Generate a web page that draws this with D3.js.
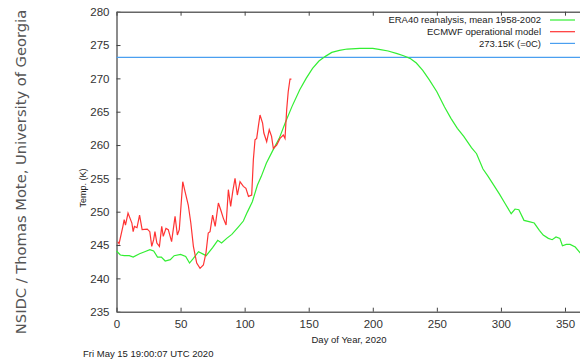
<!DOCTYPE html>
<html>
<head>
<meta charset="utf-8">
<script src="https://cdn.jsdelivr.net/npm/d3@7"></script>
<style>
  body { margin: 0; background: #fff; }
  svg { display: block; font-family: "Liberation Sans", Arial, sans-serif; }
</style>
</head>
<body>
<div id="chart"></div>
<script>
const width = 580, height = 360;

// ERA40 climatology (mean 1958-2002)
var climDays = [0, 3, 6, 10, 13, 18, 22, 26, 29, 32, 35, 38, 42, 45, 50, 54, 57, 60, 64, 68, 70, 75, 79, 82, 86, 90, 95, 99, 102, 106, 110, 113, 117, 122, 127, 132, 137, 143, 148, 153, 158, 163, 168, 174, 180, 190, 200, 206, 212, 219, 224, 229, 234, 239, 244, 250, 256, 261, 266, 271, 277, 281, 286, 290, 295, 299, 303, 308, 311, 314, 318, 322, 326, 330, 333, 337, 340, 343, 346, 348, 351, 354, 358, 362];
var climTemp = [244.1, 243.5, 243.4, 243.4, 243.2, 243.7, 244.0, 244.3, 244.1, 243.2, 243.2, 242.6, 242.8, 243.4, 243.6, 243.3, 242.3, 243.0, 244.0, 243.6, 243.4, 244.6, 245.7, 245.3, 246.0, 246.6, 247.7, 248.6, 249.9, 251.5, 254.0, 255.3, 257.3, 259.2, 261.0, 263.5, 265.8, 268.3, 270.0, 271.5, 272.6, 273.3, 273.9, 274.2, 274.4, 274.5, 274.5, 274.3, 274.1, 273.7, 273.4, 273.0, 272.3, 271.2, 269.8, 268.0, 265.7, 264.0, 262.5, 261.3, 259.6, 258.7, 256.4, 255.3, 253.8, 252.6, 251.3, 249.7, 250.4, 250.3, 248.7, 248.5, 248.3, 247.2, 246.5, 246.0, 245.8, 246.2, 246.0, 244.9, 245.1, 245.1, 244.7, 243.8];

// ECMWF operational model, 2020
var modelDays = [1, 2, 5, 6, 7, 9, 12, 13, 14, 16, 18, 20, 24, 26, 27.5, 29, 30, 31.5, 33.5, 35.3, 36.5, 38.6, 40.4, 43, 45.7, 47.5, 49, 51.7, 53.5, 56, 58, 60, 62.6, 65.2, 67.8, 69.8, 71.6, 73, 75, 77, 79.5, 81.3, 83.4, 85.5, 87.3, 89.1, 90.7, 92.5, 94.3, 96.4, 99, 101, 103, 105.5, 106.8, 108.1, 109.4, 110.7, 112, 114, 115, 117.2, 119.2, 121, 122.4, 125, 127.6, 130.2, 131.5, 132.8, 134, 135.4, 136.5];
var modelTemp = [245.5, 245.2, 247.8, 248.8, 248.0, 249.8, 248.3, 247.0, 247.8, 247.6, 249.5, 247.3, 247.4, 247.0, 244.8, 245.8, 247.0, 245.3, 244.8, 247.8, 246.3, 247.5, 247.3, 245.5, 249.3, 246.5, 247.3, 254.5, 253.0, 251.0, 248.3, 244.8, 242.3, 241.5, 242.0, 243.8, 246.8, 247.0, 249.5, 247.8, 251.3, 250.3, 249.0, 248.0, 253.3, 250.8, 253.0, 255.0, 252.5, 254.5, 253.8, 253.5, 252.3, 252.5, 257.8, 260.8, 261.0, 262.8, 264.5, 263.3, 261.8, 260.5, 262.3, 261.3, 259.5, 260.0, 261.0, 261.5, 261.0, 265.3, 268.0, 269.9, 269.9];

var freezeK = 273.15;

var yTicks = [235, 240, 245, 250, 255, 260, 265, 270, 275, 280];
var xTicks = [0, 50, 100, 150, 200, 250, 300, 350];

var legendLabels = ["ERA40 reanalysis, mean 1958-2002", "ECMWF operational model", "273.15K (=0C)"];
var legendColors = ["#33ee33", "#ff3333", "#4a9ff0"];

var svg = d3.select("#chart").append("svg")
    .attr("width", width)
    .attr("height", height);

var x = d3.scaleLinear().domain([0, 366]).range([116.5, 585.5]);
var y = d3.scaleLinear().domain([235, 280]).range([311.7, 11.7]);

// mirrored axes, ticks pointing inward like gnuplot
svg.append("g")
    .attr("transform", "translate(" + x(0) + ",0)")
    .call(d3.axisLeft(y).tickValues(yTicks).tickSizeInner(-4).tickSizeOuter(0).tickPadding(7))
    .call(g => g.selectAll("text").attr("font-size", 11.5).attr("fill", "#333").attr("font-family", "Liberation Sans, Arial"));

svg.append("g")
    .attr("transform", "translate(0," + y(235) + ")")
    .call(d3.axisBottom(x).tickValues(xTicks).tickSizeInner(-4).tickSizeOuter(0).tickPadding(8))
    .call(g => g.selectAll("text").attr("font-size", 11.5).attr("fill", "#333").attr("font-family", "Liberation Sans, Arial"));

svg.append("g")
    .attr("transform", "translate(0," + y(280) + ")")
    .call(d3.axisTop(x).tickValues(xTicks).tickSizeInner(-4).tickSizeOuter(0).tickFormat(""));

svg.selectAll(".domain").attr("stroke", "#666").attr("stroke-width", 1.5);
svg.selectAll(".tick line").attr("stroke", "#444");

// freezing line
svg.append("line")
    .attr("x1", x(0)).attr("x2", width)
    .attr("y1", y(freezeK)).attr("y2", y(freezeK))
    .attr("stroke", legendColors[2])
    .attr("stroke-width", 1.4);

var clim = climDays.map((d, i) => [d, climTemp[i]]);
var model = modelDays.map((d, i) => [d, modelTemp[i]]);

var line = d3.line().x(d => x(d[0])).y(d => y(d[1]));

svg.append("path")
    .datum(clim)
    .attr("fill", "none")
    .attr("stroke", legendColors[0])
    .attr("stroke-width", 1.2)
    .attr("d", line);

svg.append("path")
    .datum(model)
    .attr("fill", "none")
    .attr("stroke", legendColors[1])
    .attr("stroke-width", 1.2)
    .attr("d", line);

// legend
var leg = svg.append("g").attr("class", "legend");
legendLabels.forEach(function (lab, i) {
    var ly = 20 + i * 11.7;
    leg.append("text")
        .attr("x", 541)
        .attr("y", ly)
        .attr("dy", "0.35em")
        .attr("text-anchor", "end")
        .attr("font-size", 9.5)
        .attr("fill", "#222")
        .text(lab);
    leg.append("line")
        .attr("x1", 550).attr("x2", 575)
        .attr("y1", ly).attr("y2", ly)
        .attr("stroke", legendColors[i])
        .attr("stroke-width", 1.2);
});

// labels
svg.append("text")
    .attr("transform", "translate(86,188) rotate(-90)")
    .attr("text-anchor", "middle")
    .attr("font-size", 9)
    .attr("fill", "#222")
    .text("Temp. (K)");

svg.append("text")
    .attr("x", 349).attr("y", 343)
    .attr("text-anchor", "middle")
    .attr("font-size", 9.5)
    .attr("fill", "#222")
    .text("Day of Year, 2020");

svg.append("text")
    .attr("x", 83).attr("y", 357)
    .attr("font-size", 9.5)
    .attr("fill", "#222")
    .text("Fri May 15 19:00:07 UTC 2020");

svg.append("text")
    .attr("transform", "translate(25.5,172) rotate(-90)")
    .attr("text-anchor", "middle")
    .attr("font-family", "DejaVu Sans")
    .attr("font-size", 14.7)
    .attr("fill", "#555")
    .text("NSIDC / Thomas Mote, University of Georgia");
</script>
</body>
</html>
